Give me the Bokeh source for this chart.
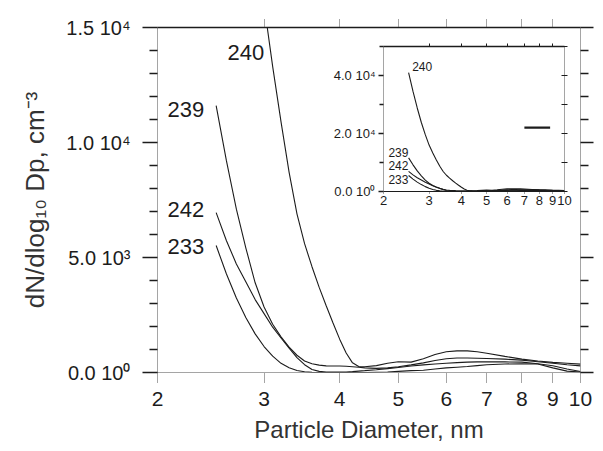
from bokeh.plotting import figure
from bokeh.models import (Range1d, FixedTicker, LinearAxis, CustomJSTickFormatter,
                          GridBox, ColumnDataSource)
from bokeh.core.properties import value
from bokeh.embed import file_html
from bokeh.resources import INLINE

# ---------------- data ----------------
diam = [2.5, 2.6, 2.7, 2.8, 2.9, 3.0, 3.1, 3.2, 3.3, 3.4, 3.5, 3.6, 3.7, 3.8, 3.9, 4.0,
        4.1, 4.2, 4.3, 4.4, 4.6, 4.8, 5.0, 5.25, 5.5, 5.75, 6.0, 6.25, 6.5, 6.75, 7.0, 7.5, 8.0,
        8.5, 9.0, 9.5, 10.0]
n233 = [5520, 4280, 3240, 2380, 1680, 1130, 710, 400, 210, 90, 30, 5, 0, 0, 0, 0,
        0, 0, 0, 0, 10, 20, 50, 80, 100, 150, 200, 230, 260, 300, 340, 370, 380, 370, 200, 60, 20]
n239 = [11600, 9200, 7100, 5400, 3900, 2850, 2100, 1550, 1100, 750, 500, 380, 320, 290, 280, 280,
        270, 250, 225, 200, 180, 200, 250, 330, 420, 520, 600, 630, 630, 620, 610, 580, 540, 470, 400, 340, 290]
n240 = [41000, 34500, 28800, 23800, 19600, 16000, 13300, 10900, 8700, 6900, 5600, 4600, 3700, 2900, 2150, 1450,
        850, 420, 260, 250, 300, 400, 470, 450, 600, 780, 900, 940, 940, 900, 840, 700, 580, 500, 440, 400, 365]
n242 = [6950, 5730, 4720, 3930, 3170, 2560, 1970, 1500, 1060, 650, 340, 130, 50, 25, 20, 20,
        25, 40, 60, 80, 120, 170, 220, 280, 330, 370, 400, 430, 450, 460, 460, 460, 450, 380, 290, 150, 40]
series = {"233": n233, "239": n239, "240": n240, "242": n242}

x_ticks = [2, 3, 4, 5, 6, 7, 8, 9, 10]
x_tick_labels = ["2", "3", "4", "5", "6", "7", "8", "9", "10"]
y_ticks = [0, 5000, 10000, 15000]
y_tick_labels = ["0.0 10\u2070", "5.0 10\u00b3", "1.0 10\u2074", "1.5 10\u2074"]
y_minor = [1000, 2000, 3000, 4000, 6000, 7000, 8000, 9000, 11000, 12000, 13000, 14000]
inset_y_ticks = [0, 20000, 40000]
inset_y_tick_labels = ["0.0 10\u2070", "2.0 10\u2074", "4.0 10\u2074"]
inset_y_minor = [10000, 30000, 50000]
inset_mark_x = [7.0, 8.8]
inset_mark_y = [22000, 22000]

main_lbl_text = ["240", "239", "242", "233"]
main_lbl_x = [2.61, 2.077, 2.077, 2.077]
main_lbl_y = [13900, 11450, 7100, 5500]
inset_lbl_text = ["240", "239", "242", "233"]
inset_lbl_x = [2.58, 2.09, 2.09, 2.09]
inset_lbl_y = [43000, 13300, 9000, 4200]

FONT = "Liberation Sans"
INK = "#1c1c1c"
DOT = "#4a4a4a"
empty = CustomJSTickFormatter(code="return ''")

# ---------------- main plot ----------------
p = figure(width=595, height=450, x_axis_type="log",
           x_range=Range1d(2, 10), y_range=Range1d(0, 15000),
           output_backend="svg", toolbar_location=None,
           min_border_left=157, min_border_right=15, min_border_top=27, min_border_bottom=78,
           x_axis_label="Particle Diameter, nm",
           y_axis_label="dN/dlog\u2081\u2080 Dp, cm\u207b\u00b3")
p.outline_line_color = None
p.grid.visible = False
p.background_fill_color = "white"
p.border_fill_color = "white"

xa = p.xaxis[0]
xa.ticker = FixedTicker(ticks=x_ticks, minor_ticks=[])
xa.major_label_overrides = dict(zip(x_ticks, x_tick_labels))
xa.axis_line_dash = "1 1"
xa.axis_line_color = DOT
xa.major_tick_out = 10
xa.major_tick_in = 0
xa.major_tick_line_dash = "1 1"
xa.major_tick_line_color = DOT
xa.major_label_standoff = 9
xa.major_label_text_font = FONT
xa.major_label_text_font_size = "21px"
xa.major_label_text_color = INK
xa.axis_label_text_font = FONT
xa.axis_label_text_font_size = "24px"
xa.axis_label_text_font_style = "normal"
xa.axis_label_text_color = "#333333"
xa.axis_label_standoff = 7

ya = p.yaxis[0]
ya.ticker = FixedTicker(ticks=y_ticks, minor_ticks=y_minor)
ya.major_label_overrides = dict(zip(y_ticks, y_tick_labels))
ya.axis_line_dash = "1 1"
ya.axis_line_color = DOT
ya.major_tick_out = 15
ya.major_tick_in = 0
ya.minor_tick_out = 8
ya.minor_tick_in = 0
ya.major_tick_line_color = INK
ya.minor_tick_line_color = INK
ya.major_tick_line_width = 1.5
ya.minor_tick_line_width = 1.5
ya.major_label_standoff = 12
ya.major_label_text_font = FONT
ya.major_label_text_font_size = "20px"
ya.major_label_text_color = INK
ya.axis_label_text_font = FONT
ya.axis_label_text_font_size = "26px"
ya.axis_label_text_font_style = "normal"
ya.axis_label_text_color = "#333333"
ya.axis_label_standoff = 13

top = LinearAxis(ticker=FixedTicker(ticks=x_ticks[1:-1], minor_ticks=[]), formatter=empty)
top.axis_line_color = INK
top.axis_line_width = 1.6
top.major_tick_out = 8
top.major_tick_in = 0
top.major_tick_line_dash = "1 1"
top.major_tick_line_color = DOT
top.major_label_standoff = 0
p.add_layout(top, "above")

right = LinearAxis(ticker=FixedTicker(ticks=y_ticks, minor_ticks=y_minor), formatter=empty)
right.axis_line_dash = "1 1"
right.axis_line_color = DOT
right.major_tick_out = 13
right.major_tick_in = 0
right.minor_tick_out = 8
right.minor_tick_in = 0
right.major_tick_line_color = INK
right.minor_tick_line_color = INK
right.major_tick_line_width = 1.3
right.minor_tick_line_width = 1.3
right.major_label_standoff = 0
p.add_layout(right, "right")

for name, vals in series.items():
    p.line(diam, vals, line_color=INK, line_width=1.1)

src_main = ColumnDataSource(dict(x=main_lbl_x, y=main_lbl_y, t=main_lbl_text))
p.text(x="x", y="y", text="t", source=src_main, text_font=value(FONT),
       text_font_size="22px", text_align="left", text_baseline="middle", text_color=INK)

# ---------------- inset ----------------
ins = figure(width=252, height=175, x_axis_type="log",
             x_range=Range1d(2, 10), y_range=Range1d(0, 50000),
             output_backend="svg", toolbar_location=None,
             min_border_left=61, min_border_right=10, min_border_top=8, min_border_bottom=22)
ins.outline_line_color = None
ins.grid.visible = False
ins.background_fill_alpha = 0
ins.border_fill_alpha = 0

ixa = ins.xaxis[0]
ixa.ticker = FixedTicker(ticks=x_ticks, minor_ticks=[])
ixa.major_label_overrides = dict(zip(x_ticks, x_tick_labels))
ixa.axis_line_color = INK
ixa.axis_line_width = 1.2
ixa.major_tick_out = 2
ixa.major_tick_in = 0
ixa.major_tick_line_dash = "1 1"
ixa.major_tick_line_color = DOT
ixa.major_label_standoff = 2
ixa.major_label_text_font = FONT
ixa.major_label_text_font_size = "13px"
ixa.major_label_text_color = INK

iya = ins.yaxis[0]
iya.ticker = FixedTicker(ticks=inset_y_ticks, minor_ticks=inset_y_minor)
iya.major_label_overrides = dict(zip(inset_y_ticks, inset_y_tick_labels))
iya.axis_line_dash = "1 1"
iya.axis_line_color = DOT
iya.major_tick_out = 5
iya.major_tick_in = 0
iya.minor_tick_out = 4
iya.minor_tick_in = 0
iya.major_tick_line_color = INK
iya.minor_tick_line_color = INK
iya.major_tick_line_width = 1.3
iya.minor_tick_line_width = 1.3
iya.major_label_standoff = 3
iya.major_label_text_font = FONT
iya.major_label_text_font_size = "13px"
iya.major_label_text_color = INK

itop = LinearAxis(ticker=FixedTicker(ticks=x_ticks[1:-1], minor_ticks=[]), formatter=empty)
itop.axis_line_color = INK
itop.axis_line_width = 1.5
itop.major_tick_out = 3
itop.major_tick_in = 0
itop.major_tick_line_color = INK
itop.major_label_standoff = 0
ins.add_layout(itop, "above")

iright = LinearAxis(ticker=FixedTicker(ticks=inset_y_ticks, minor_ticks=inset_y_minor), formatter=empty)
iright.axis_line_dash = "1 1"
iright.axis_line_color = DOT
iright.major_tick_out = 3
iright.major_tick_in = 3
iright.minor_tick_out = 3
iright.minor_tick_in = 3
iright.major_tick_line_color = INK
iright.minor_tick_line_color = INK
iright.major_label_standoff = 0
ins.add_layout(iright, "right")

for name, vals in series.items():
    ins.line(diam, vals, line_color=INK, line_width=1.1)
ins.line(inset_mark_x, inset_mark_y, line_color=INK, line_width=2.2)

src_ins = ColumnDataSource(dict(x=inset_lbl_x, y=inset_lbl_y, t=inset_lbl_text))
ins.text(x="x", y="y", text="t", source=src_ins, text_font=value(FONT),
         text_font_size="12px", text_align="left", text_baseline="middle", text_color=INK)

# place the inset over the main plot with overlapping grid cells
grid = GridBox(children=[(p, 0, 0, 3, 3), (ins, 1, 1, 1, 1)],
               rows=["38px", "175px", "237px"], cols=["322px", "252px", "21px"], spacing=0)

open("out.html", "w").write(file_html(grid, INLINE))
